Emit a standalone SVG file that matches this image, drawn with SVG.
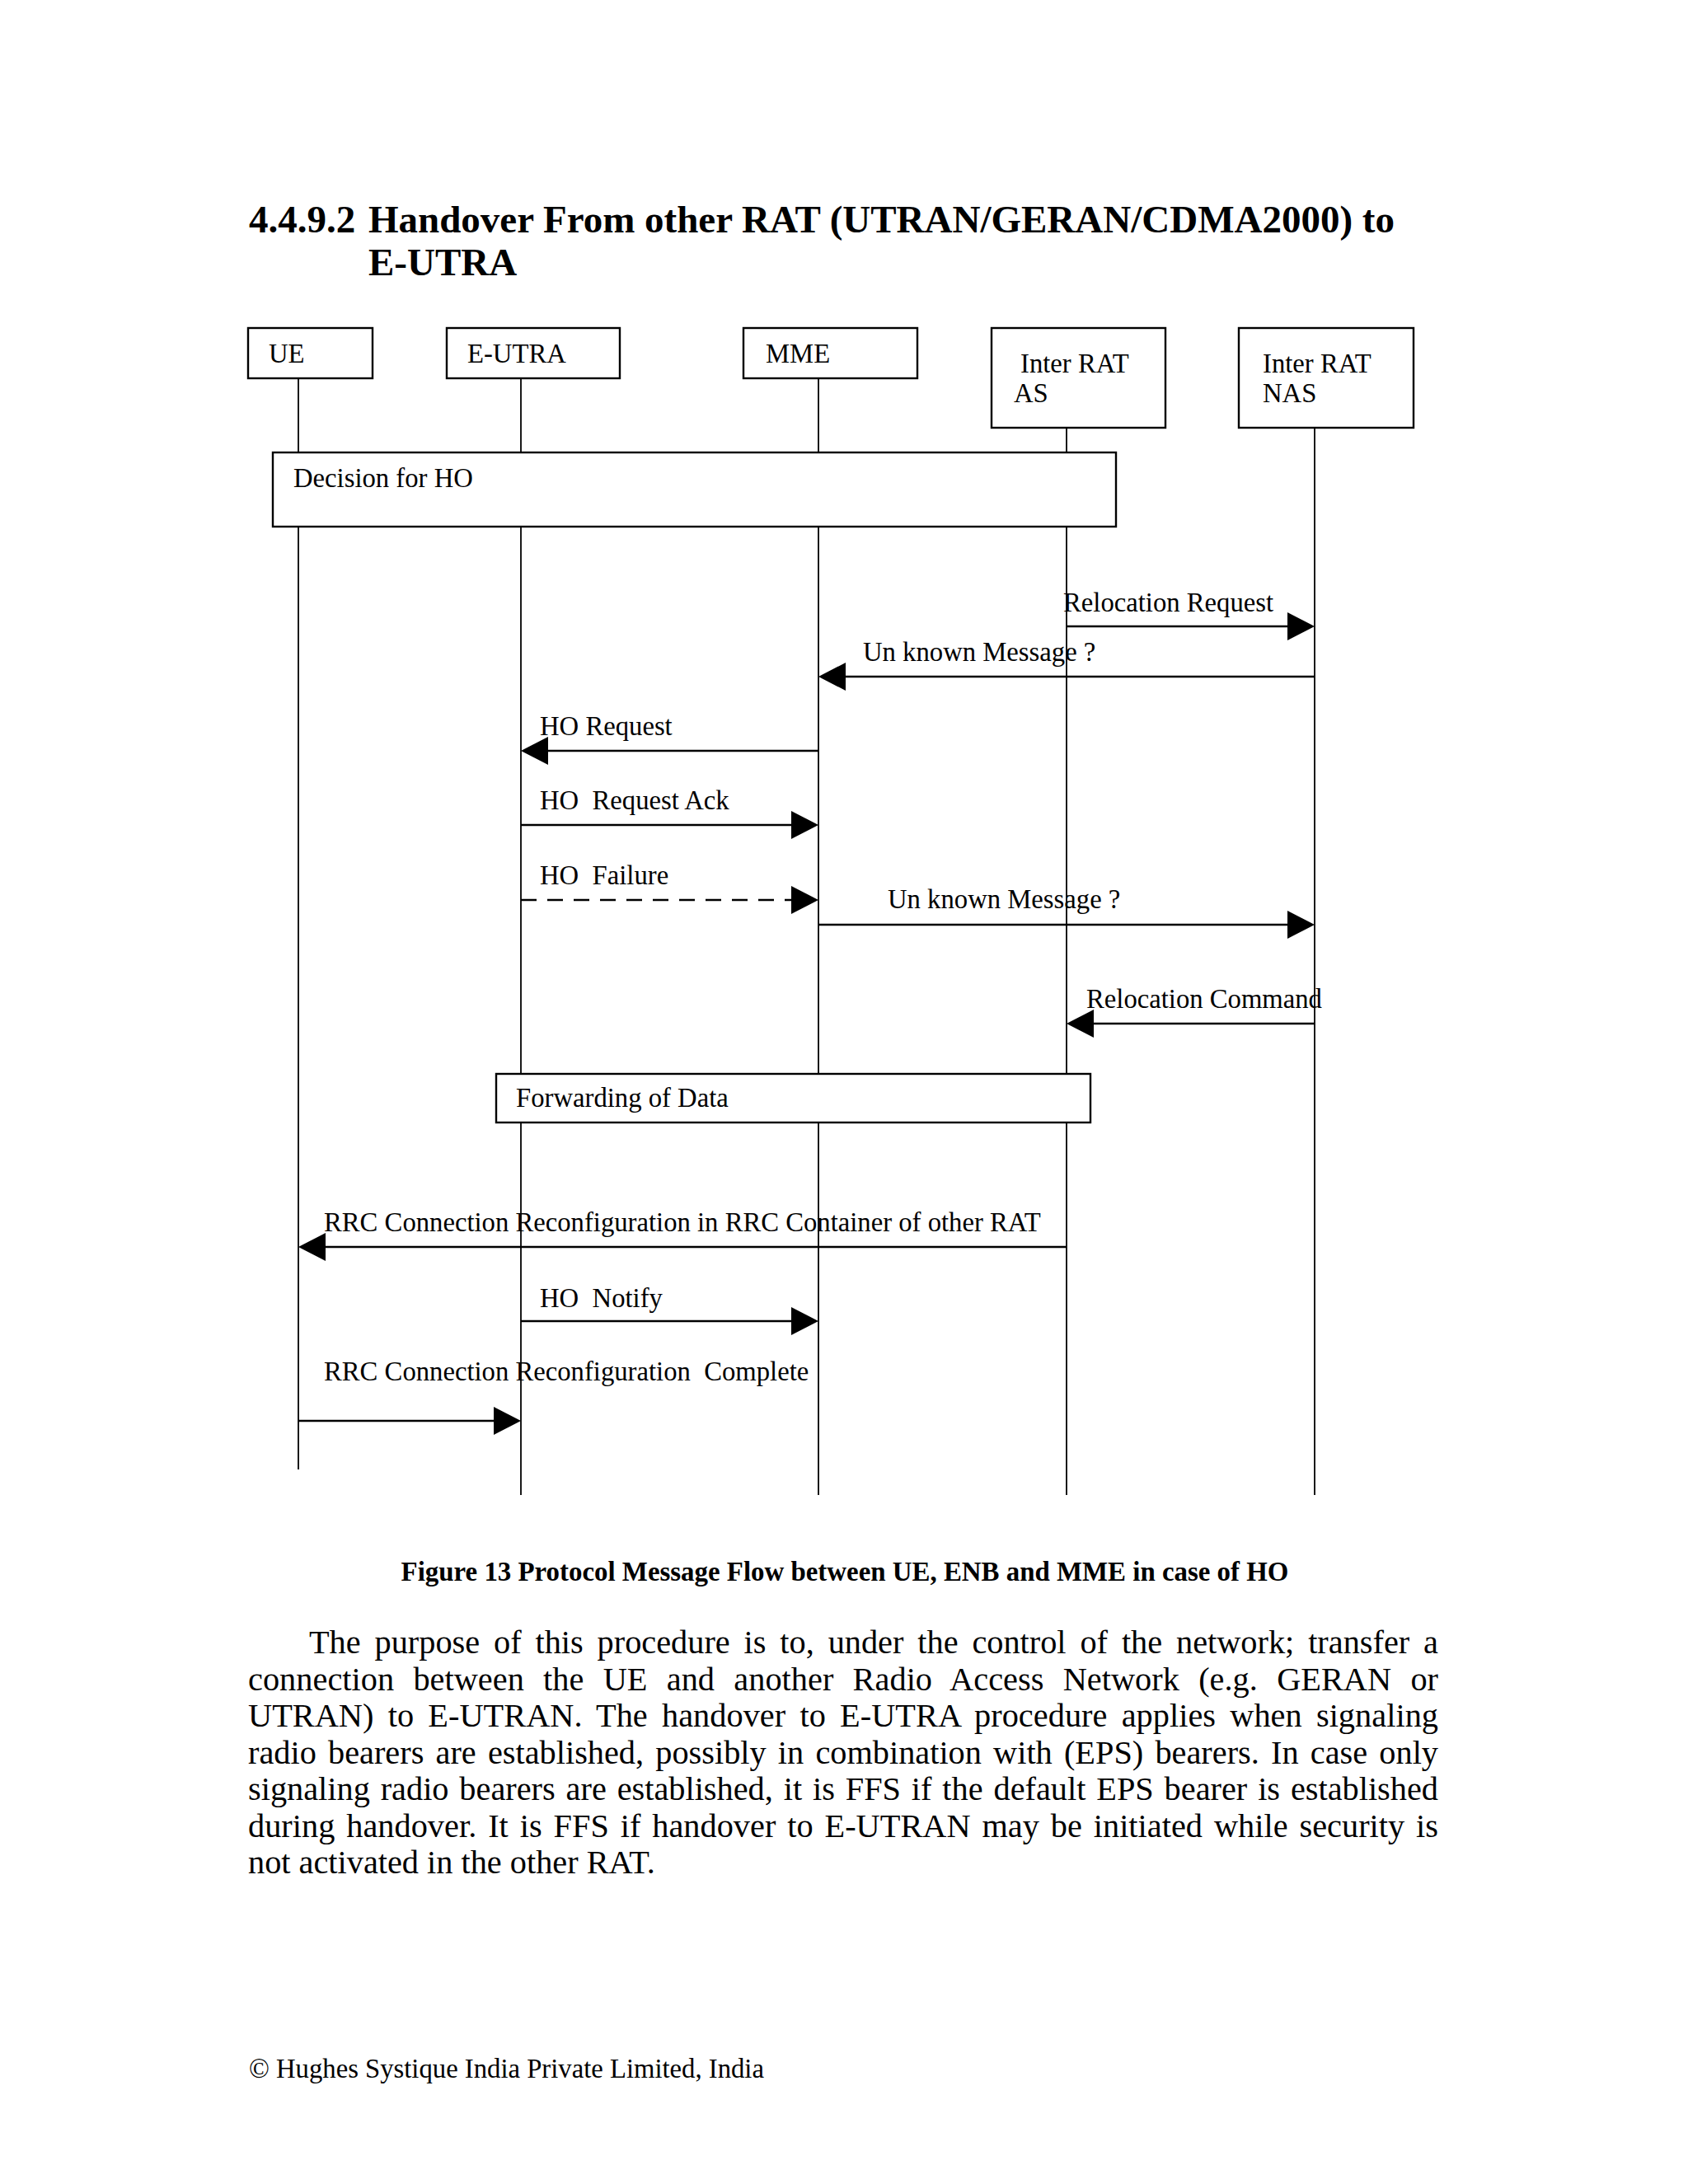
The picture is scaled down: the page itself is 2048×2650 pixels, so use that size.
<svg xmlns="http://www.w3.org/2000/svg" width="2048" height="2650" viewBox="0 0 2048 2650">
<style>
.t{font-family:"Liberation Serif","Times New Roman",serif;fill:#000}
.lbl{font-size:32.7px}
.ttl{font-size:47px;font-weight:bold}
.cap{font-size:32.9px;font-weight:bold}
.body{font-size:40.3px}
.box{fill:#fff;stroke:#000;stroke-width:2.4}
.life{stroke:#000;stroke-width:1.8;fill:none}
.msg{stroke:#000;stroke-width:2.6;fill:none;marker-end:url(#ah)}
.dash{stroke-dasharray:19 13}
</style>
<defs>
<marker id="ah" viewBox="0 0 33 34" refX="13" refY="17" markerWidth="33" markerHeight="34" markerUnits="userSpaceOnUse" orient="auto">
<path d="M0,0 L33,17 L0,34 Z" fill="#000"/>
</marker>
</defs>
<rect x="0" y="0" width="2048" height="2650" fill="#fff"/>

<g id="heading">
<text class="t ttl" x="302" y="282">4.4.9.2</text>
<text class="t ttl" x="447" y="282">Handover From other RAT (UTRAN/GERAN/CDMA2000) to</text>
<text class="t ttl" x="447" y="334">E-UTRA</text>
</g>

<g id="node-ue">
<line class="life" x1="362" y1="459" x2="362" y2="1783"/>
<rect class="box" x="301" y="398" width="151" height="61"/>
<text class="t lbl" x="326" y="440">UE</text>
</g>
<g id="node-eutra">
<line class="life" x1="632" y1="459" x2="632" y2="1814"/>
<rect class="box" x="542" y="398" width="210" height="61"/>
<text class="t lbl" x="567" y="440">E-UTRA</text>
</g>
<g id="node-mme">
<line class="life" x1="993" y1="459" x2="993" y2="1814"/>
<rect class="box" x="902" y="398" width="211" height="61"/>
<text class="t lbl" x="929" y="440">MME</text>
</g>
<g id="node-interrat-as">
<line class="life" x1="1294" y1="519" x2="1294" y2="1814"/>
<rect class="box" x="1203" y="398" width="211" height="121"/>
<text class="t lbl" x="1238" y="452">Inter RAT</text>
<text class="t lbl" x="1230" y="488">AS</text>
</g>
<g id="node-interrat-nas">
<line class="life" x1="1595" y1="519" x2="1595" y2="1814"/>
<rect class="box" x="1503" y="398" width="212" height="121"/>
<text class="t lbl" x="1532" y="452">Inter RAT</text>
<text class="t lbl" x="1532" y="488">NAS</text>
</g>

<g id="node-decision">
<rect class="box" x="331" y="549" width="1023" height="90"/>
<text class="t lbl" x="356" y="591">Decision for HO</text>
</g>
<g id="node-forwarding">
<rect class="box" x="602" y="1303" width="721" height="59"/>
<text class="t lbl" x="626" y="1343">Forwarding of Data</text>
</g>

<g id="connectors">
<line class="msg" x1="1294" y1="760" x2="1575" y2="760"/>
<text class="t lbl" x="1290" y="742">Relocation Request</text>
<line class="msg" x1="1595" y1="821" x2="1013" y2="821"/>
<text class="t lbl" x="1047" y="802">Un known Message ?</text>
<line class="msg" x1="993" y1="911" x2="652" y2="911"/>
<text class="t lbl" x="655" y="892">HO Request</text>
<line class="msg" x1="632" y1="1001" x2="973" y2="1001"/>
<text class="t lbl" x="655" y="982" xml:space="preserve">HO  Request Ack</text>
<line class="msg dash" x1="632" y1="1092" x2="973" y2="1092"/>
<text class="t lbl" x="655" y="1073" xml:space="preserve">HO  Failure</text>
<line class="msg" x1="993" y1="1122" x2="1575" y2="1122"/>
<text class="t lbl" x="1077" y="1102">Un known Message ?</text>
<line class="msg" x1="1595" y1="1242" x2="1314" y2="1242"/>
<text class="t lbl" x="1318" y="1223">Relocation Command</text>
<line class="msg" x1="1294" y1="1513" x2="382" y2="1513"/>
<text class="t lbl" x="393" y="1494">RRC Connection Reconfiguration in RRC Container of other RAT</text>
<line class="msg" x1="632" y1="1603" x2="973" y2="1603"/>
<text class="t lbl" x="655" y="1586" xml:space="preserve">HO  Notify</text>
<line class="msg" x1="362" y1="1724" x2="612" y2="1724"/>
<text class="t lbl" x="393" y="1675" xml:space="preserve">RRC Connection Reconfiguration  Complete</text>
</g>

<g id="caption">
<text class="t cap" x="1025" y="1918" text-anchor="middle">Figure 13 Protocol Message Flow between UE, ENB and MME in case of HO</text>
</g>

<g id="body-text">
<text class="t body" x="375" y="2006" word-spacing="6.8" textLength="1370">The purpose of this procedure is to, under the control of the network; transfer a</text>
<text class="t body" x="301" y="2050.5" word-spacing="13.15" textLength="1444">connection between the UE and another Radio Access Network (e.g. GERAN or</text>
<text class="t body" x="301" y="2095" word-spacing="7.07" textLength="1444">UTRAN) to E-UTRAN. The handover to E-UTRA procedure applies when signaling</text>
<text class="t body" x="301" y="2139.5" word-spacing="4.11" textLength="1444">radio bearers are established, possibly in combination with (EPS) bearers. In case only</text>
<text class="t body" x="301" y="2184" word-spacing="2.8" textLength="1444">signaling radio bearers are established, it is FFS if the default EPS bearer is established</text>
<text class="t body" x="301" y="2228.5" word-spacing="3.76" textLength="1444">during handover. It is FFS if handover to E-UTRAN may be initiated while security is</text>
<text class="t body" x="301" y="2273">not activated in the other RAT.</text>
</g>

<g id="footer">
<text class="t lbl" x="302" y="2521">© Hughes Systique India Private Limited, India</text>
</g>
</svg>
